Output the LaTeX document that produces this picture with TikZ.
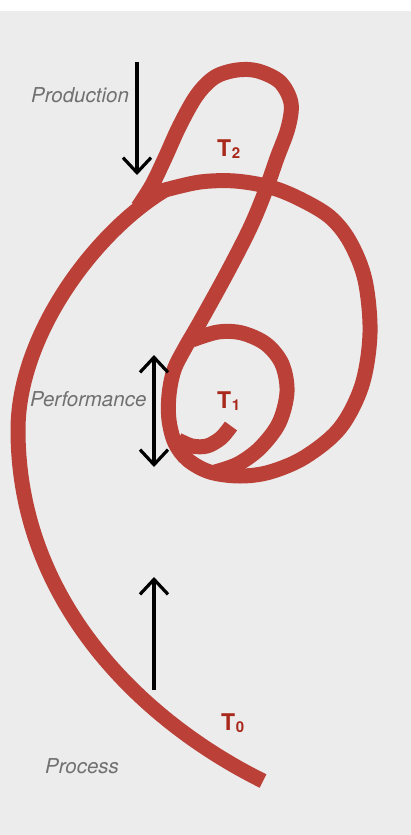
\documentclass[tikz,border=0pt]{standalone}
\usepackage{fontspec}
\setmainfont{TeX Gyre Heros}
\usetikzlibrary{arrows.meta}
\definecolor{tube}{RGB}{186,64,56}
\definecolor{tlabel}{RGB}{168,40,28}
\definecolor{bgcol}{RGB}{236,236,236}
\definecolor{lblcol}{RGB}{112,112,112}
\begin{document}
\begin{tikzpicture}[x=1pt,y=-1pt,
  tubeline/.style={draw=tube, line width=15pt, line join=round},
  arr/.style={line width=3.2pt, draw=black},
  barb/.tip={Straight Barb[length=15pt,width=28pt,line width=3.2pt]},
  lbltext/.style={font=\fontsize{20.5}{20.5}\selectfont\itshape, text=lblcol, inner sep=0pt, anchor=base west},
  tlbl/.style={font=\bfseries, text=tlabel, inner sep=0pt, anchor=base west}]
\useasboundingbox (0,0) rectangle (411,835);
\fill[white] (0,0) rectangle (411,11);
\fill[bgcol] (0,11) rectangle (411,835);

% main strand: tail, big arc, inner turn, diagonal, teardrop
\draw[tubeline] (263,781) .. controls (140,720) and (18,600) .. (18,430)
  .. controls (18,335) and (95,232) .. (165,190)
  -- plot[smooth, tension=0.55] coordinates {
 (165,190) (200,182) (235,181) (270,187) (300,199) (330,217) (350,242) (365,280)
 (370,333) (362,385) (340,428) (305,457) (270,472) (240,476) (210,472)
 (188,460) (175,443) (169,420) (169,395) (174,370) (185,348) (200,322)
 (227,273) (250,228) (265,192) (277,158) (288,128) (291,103) (280,82)
 (258,71) (237,70) (215,77) (197,95) (180,125) (165,158) (152,185) (138,207)};

% small bowl
\draw[tubeline] plot[smooth, tension=0.55] coordinates {
 (192,340) (218,332) (242,333) (266,344) (282,364) (287,392) (279,423)
 (260,448) (238,464) (215,472)};

% hook
\draw[tubeline] plot[smooth, tension=0.55] coordinates {
 (231,426) (221,438) (207,446) (192,446) (178,440)};

% arrows
\coordinate (prodA) at (137,62);
\coordinate (prodB) at (137,175);
\draw[arr, -barb] (prodA) -- (prodB);
\coordinate (perfA) at (154,355);
\coordinate (perfB) at (154,467);
\draw[arr, barb-barb] (perfA) -- (perfB);
\coordinate (procA) at (154,690);
\coordinate (procB) at (154,577);
\draw[arr, -barb] (procA) -- (procB);

% labels
\node[lbltext] (prod) at (31,102) {Production};
\node[lbltext] (perf) at (30,406) {Performance};
\node[lbltext] (proc) at (45,773) {Process};

\node[tlbl] (t2) at (217,156) {\fontsize{23}{23}\selectfont T\kern0.6pt\raisebox{-2.5pt}{\fontsize{15}{15}\selectfont 2}};
\node[tlbl] (t1) at (217,408) {\fontsize{23}{23}\selectfont T\kern0.6pt\raisebox{-2.5pt}{\fontsize{15}{15}\selectfont 1}};
\node[tlbl] (t0) at (221,730) {\fontsize{23}{23}\selectfont T\kern0.6pt\raisebox{-2.5pt}{\fontsize{15}{15}\selectfont 0}};
\end{tikzpicture}
\end{document}
